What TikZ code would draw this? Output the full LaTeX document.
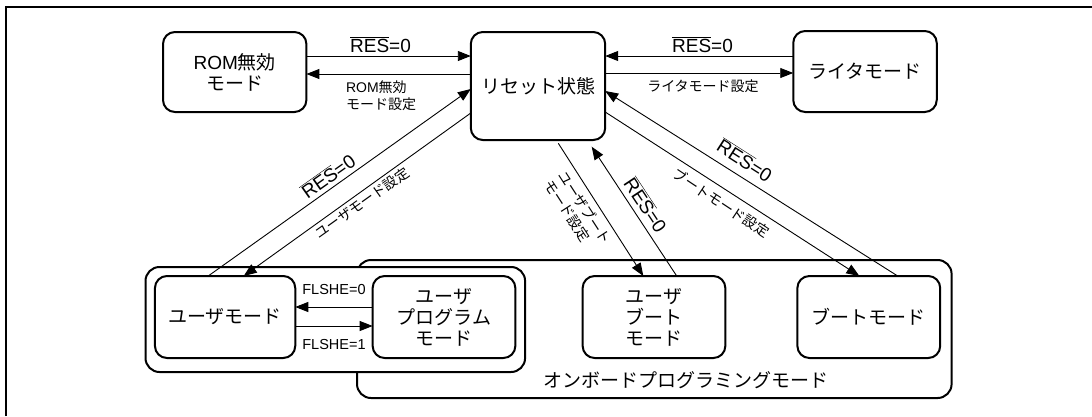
\documentclass[tikz,border=0pt]{standalone}
\usepackage{fontspec}
\setmainfont{Liberation Sans}
\newfontfamily\jp{Noto Sans CJK JP}
\usetikzlibrary{arrows.meta}
\newcommand{\ovl}[1]{$\overline{\mbox{#1}}$}
\newcommand{\mainsz}{\fontsize{19}{21}\selectfont}
\newcommand{\lblsz}{\fontsize{14}{16.5}\selectfont}
\newcommand{\ressz}{\fontsize{19}{21}\selectfont}
\newcommand{\flsz}{\fontsize{14.5}{16}\selectfont}
\tikzset{
  statebox/.style={draw, line width=2pt, rounded corners=12pt, inner sep=0pt, outer sep=0pt,
    align=center, font=\mainsz, fill=white},
  groupbox/.style={draw, line width=2pt, rounded corners=14pt, inner sep=0pt, outer sep=0pt, fill=white},
  arr/.style={line width=0.9pt, -{Triangle[length=13pt,width=10pt]}},
  lbl/.style={font=\lblsz, inner sep=0pt, align=left},
  reslbl/.style={font=\ressz, inner sep=0pt},
  fllbl/.style={font=\flsz, inner sep=0pt},
}
\begin{document}
\begin{tikzpicture}[x=1pt,y=-1pt]
\useasboundingbox (0,0) rectangle (1092,416);
% outer frame
\draw[line width=1.8pt] (6,416) -- (6,7) -- (1092,7);

% top row
\node[statebox, minimum width=143.4pt, minimum height=80pt] (rom) at (234.7,72) {ROM{\jp 無効}\\{\jp モード}};
\node[statebox, minimum width=134.4pt, minimum height=108pt] (reset) at (538,86) {\jp リセット状態};
\node[statebox, minimum width=143.5pt, minimum height=81pt] (writer) at (865,71.5) {\jp ライタモード};

% groups
\node[groupbox, minimum width=594.6pt, minimum height=138pt] (onboard) at (654.3,329) {};
\node[font=\mainsz, inner sep=0pt] (onlbl) at (685.5,380) {\jp オンボードプログラミングモード};
\node[groupbox, minimum width=379.6pt, minimum height=105pt] (usergrp) at (335.3,319.5) {};

% bottom states
\node[statebox, minimum width=140.3pt, minimum height=82pt] (umode) at (225.1,317) {\jp ユーザモード};
\node[statebox, minimum width=142.7pt, minimum height=82pt] (upmode) at (444,317) {\jp ユーザ\\\jp プログラム\\\jp モード};
\node[statebox, minimum width=142.7pt, minimum height=82pt] (ubmode) at (654,317) {\jp ユーザ\\\jp ブート\\\jp モード};
\node[statebox, minimum width=142.8pt, minimum height=82pt] (bmode) at (868.8,317) {\jp ブートモード};

% top connectors
\draw[arr] ([yshift=16pt]rom.east) -- ([yshift=16pt]rom.east -| reset.west);
\draw[arr] ([yshift=-2pt]rom.east -| reset.west) -- ([yshift=-2pt]rom.east);
\draw[arr] ([yshift=15.5pt]writer.west) -- ([yshift=15.5pt]writer.west -| reset.east);
\draw[arr] ([yshift=-1.5pt]writer.west -| reset.east) -- ([yshift=-1.5pt]writer.west);

\node[reslbl, anchor=base] (l1) at (380.5,52) {\ovl{RES}=0};
\node[lbl, anchor=north west] (l2) at (345.8,81) {ROM{\jp 無効}\\{\jp モード設定}};
\node[reslbl, anchor=base] (l3) at (702.5,52) {\ovl{RES}=0};
\node[lbl] (l4) at (703,86) {\jp ライタモード設定};

% left diagonal
\draw[arr] ([xshift=-16.9pt]umode.north) -- ([yshift=-3pt]reset.west);
\draw[arr] ([yshift=-27pt]reset.west) -- ([xshift=18.6pt]umode.north);
\node[reslbl, rotate=35.3] (l5) at (328,176) {\ovl{RES}=0};
\node[lbl, rotate=35.5] (l6) at (362,203) {\jp ユーザモード設定};

% middle diagonal
\draw[arr] ([xshift=20.3pt,yshift=-3.3pt]reset.south) -- ([xshift=-10.7pt]ubmode.north);
\draw[arr] ([xshift=22.7pt]ubmode.north) -- ([xshift=53.7pt,yshift=-6.7pt]reset.south);
\node[lbl, rotate=-57] (l7) at (578,212) {\jp ユーザブート\\\jp モード設定};
\node[reslbl, rotate=-56.4] (l8) at (646,205) {\ovl{RES}=0};

% right diagonal
\draw[arr] ([yshift=-26pt]reset.east) -- ([xshift=-9.4pt]bmode.north);
\draw[arr] ([xshift=28.9pt]bmode.north) -- ([yshift=-5pt]reset.east);
\node[reslbl, rotate=-32.6] (l9) at (745,160) {\ovl{RES}=0};
\node[lbl, rotate=-33.5] (l10) at (721,203) {\jp ブートモード設定};

% FLSHE
\draw[arr] ([yshift=10pt]upmode.west) -- ([yshift=10pt]upmode.west -| umode.east);
\draw[arr] ([yshift=-9pt]umode.east) -- ([yshift=-9pt]umode.east -| upmode.west);
\node[fllbl] (f0) at (334,290) {FLSHE=0};
\node[fllbl] (f1) at (334,345) {FLSHE=1};
\end{tikzpicture}
\end{document}
